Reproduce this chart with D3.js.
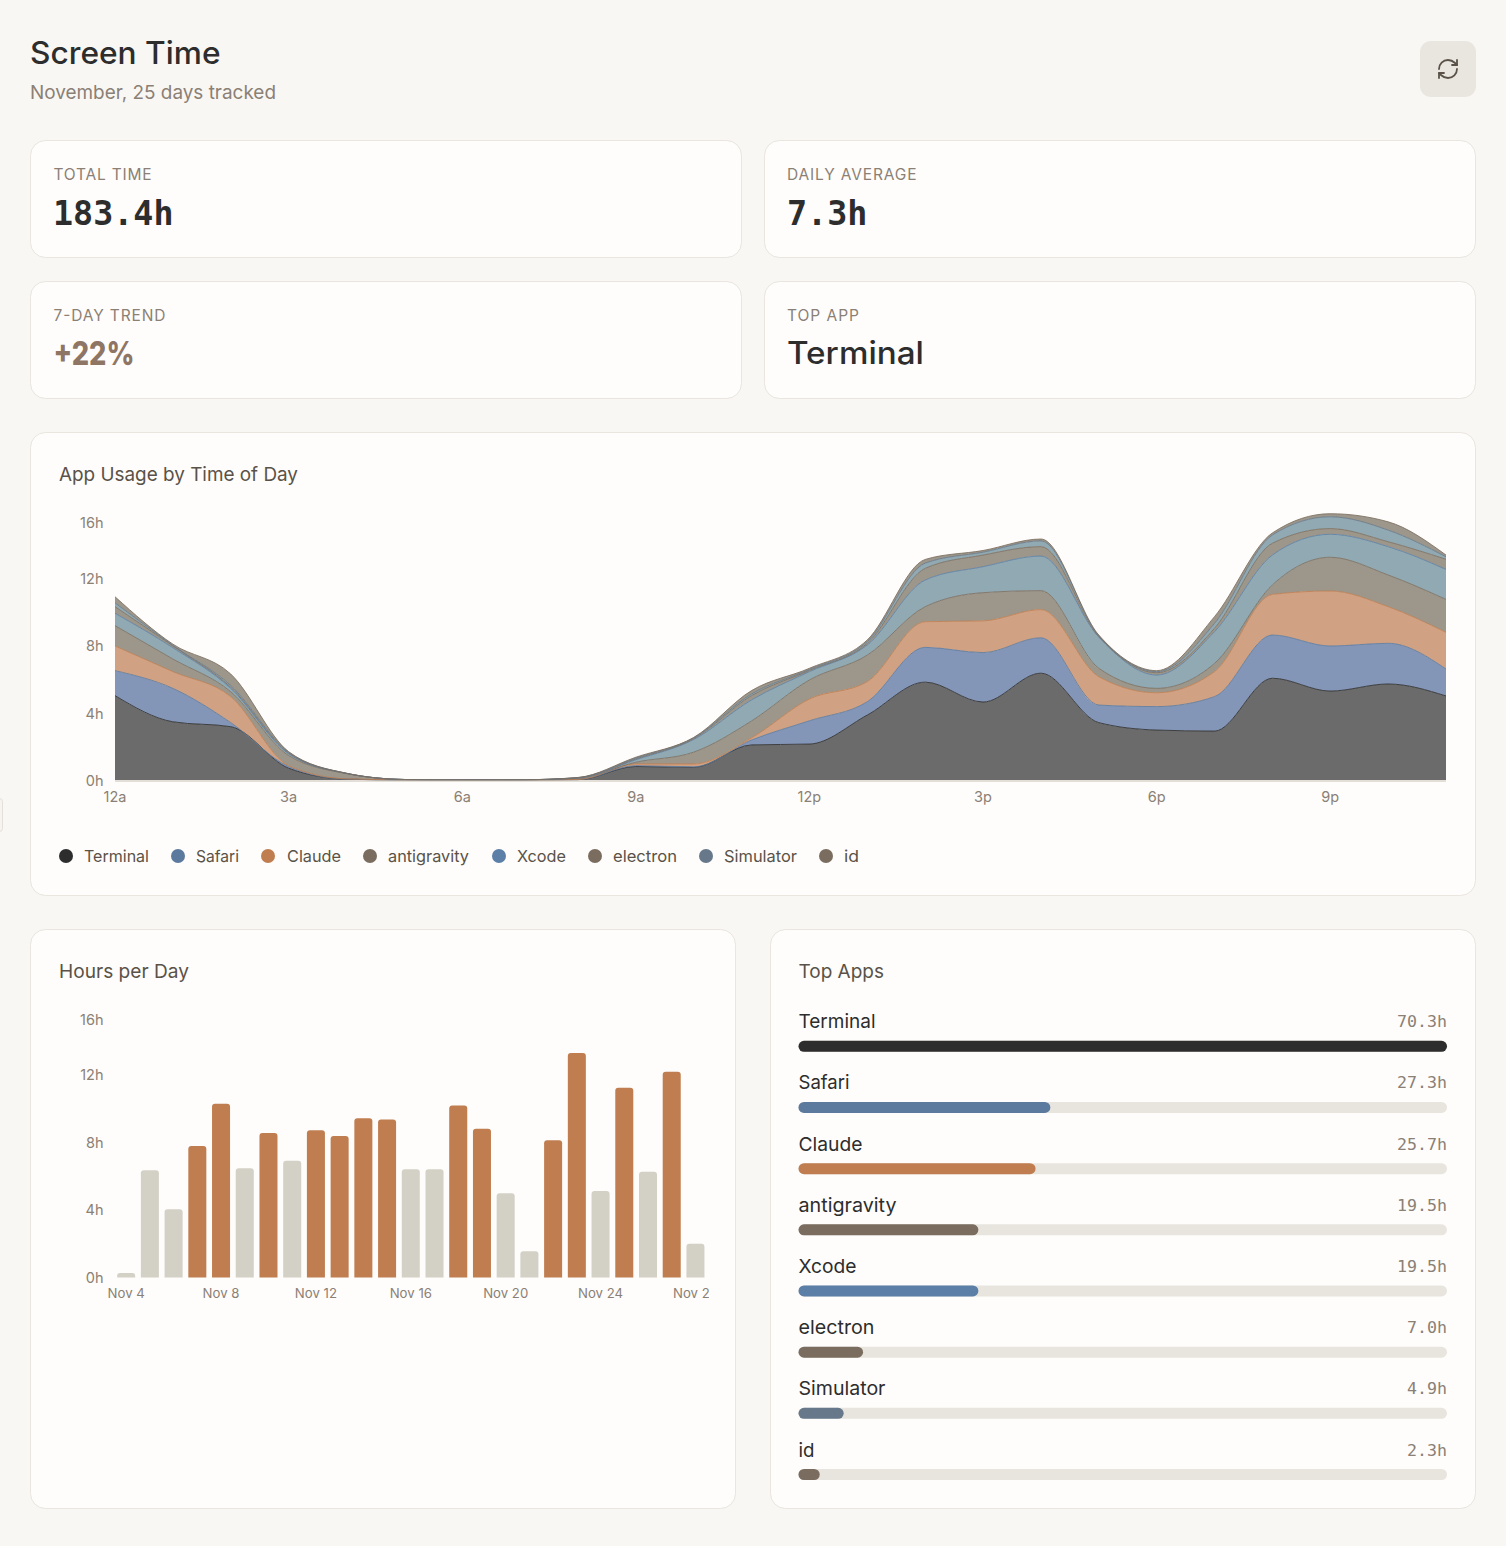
<!DOCTYPE html>
<html><head><meta charset="utf-8"><title>Screen Time</title>
<script src="https://cdn.jsdelivr.net/npm/d3@7"></script>
<style>html,body{margin:0;padding:0;background:#f9f7f4;overflow:hidden}svg{display:block}text{font-family:Inter,"Noto Sans",sans-serif}</style>
</head><body><div id="app"></div>
<script>
// ---------- data ----------
const hourTicks=[0,3,6,9,12,15,18,21];
const hourLabels=["12a","3a","6a","9a","12p","3p","6p","9p"];
const hours=d3.range(24);
const appNames=["Terminal","Safari","Claude","antigravity","Xcode","electron","Simulator","id"];
const terminalByHour=[5,3.45,3.16,.7,.05,0,0,0,.02,.8,.75,2.08,2.13,3.85,5.8,4.62,6.33,3.4,2.96,2.9,6.03,5.27,5.69,4.98];
const safariByHour=[1.48,1.98,.24,.1,0,0,0,0,0,.05,.03,.29,1.38,.79,2.06,2.93,2.1,1.04,1.39,2.04,2.56,2.67,2.41,1.6];
const claudeByHour=[1.46,.99,1.54,.05,.02,.01,0,0,.01,.1,.17,.13,1.29,1.19,1.52,1.88,1.67,1.68,.82,1.48,2.41,3.26,2.17,2.17];
const antigravityByHour=[1.21,.75,.29,.6,.31,.02,0,.01,.07,.1,.7,1,1.13,1.57,.89,1.67,1.12,.5,.26,.49,.56,2,1.88,1.95];
const xcodeByHour=[.73,.67,.2,.1,.01,0,0,0,.02,.15,.75,1.25,.49,.6,1.58,1.54,2.05,1.84,.79,1.88,1.77,1.36,1.68,1.78];
const electronByHour=[.39,.11,.07,.05,0,0,0,0,.01,.05,.05,.25,.08,.1,.69,.69,.56,.04,.14,.2,.7,.34,.29,.6];
const simulatorByHour=[.23,.03,.1,.05,.01,0,0,0,.01,.05,.05,.1,.05,.1,.31,.17,.34,.05,.06,.29,.49,.7,.69,.15];
const idByHour=[.36,.07,.68,.03,0,0,0,0,.01,.05,.02,.2,.07,.1,.22,.1,.11,.04,.06,.4,.12,.18,.49,.1];
const hourlySeries=[terminalByHour,safariByHour,claudeByHour,antigravityByHour,xcodeByHour,electronByHour,simulatorByHour,idByHour];
const dayNumbers=d3.range(4,29);
const hoursPerDay=[.26,6.36,4.05,7.8,10.3,6.48,8.56,6.92,8.72,8.38,9.43,9.37,6.42,6.42,10.2,8.81,5,1.56,8.14,13.3,5.12,11.24,6.26,12.2,2];
const dailyAverage=7.3;
const appTotals=[70.3,27.3,25.7,19.5,19.5,7,4.9,2.3];
const yTicks=[0,4,8,12,16];

// ---------- styles & layout ----------
const ink="#2d2d2d",muted="#8b8075",soft="#5a5248",card="#fefdfb",line="#e9e5df";
const appColors=["#2d2d2d","#5b7a9d","#c07e50","#7a6d5f","#5b7fa6","#7a6d5f","#66788a","#7a6d5f"];
const bandFills=["#6b6b6b","#8496b8","#d0a183","#9d968a","#90a9b2","#9d968a","#90a9b2","#9d968a"];
const legendDotX=[66,178,268,370,499,595,706,826];
const legendTextX=[84,196,287,388,517,613,724,844];
const legendTextW=[65,43,54,81,49,64,73,15];
const topAppTextW=[77,51,64,98,58,76,87,16];

const svg=d3.select("#app").append("svg").attr("width",1506).attr("height",1546).attr("viewBox","0 0 1506 1546");
function txt(g,x,y,s,o={}){
  const t=g.append("text").attr("x",x).attr("y",y).text(s)
    .attr("font-size",o.size||16).attr("font-weight",o.weight||400).attr("fill",o.fill||ink)
    .attr("text-anchor",o.anchor||"start");
  if(o.family)t.style("font-family",o.family);
  if(o.w)t.attr("textLength",o.w).attr("lengthAdjust",o.adjust||"spacingAndGlyphs");
  return t;
}
function box(x,y,w,h){svg.append("rect").attr("x",x+.5).attr("y",y+.5).attr("width",w-1).attr("height",h-1).attr("rx",15).attr("fill",card).attr("stroke",line);}
const mono='"DejaVu Sans Mono",monospace';

// sidebar handle at the left edge
svg.append("rect").attr("x",-8).attr("y",798.5).attr("width",10.5).attr("height",33).attr("rx",3).attr("fill","#f6f4f0").attr("stroke","#e4e0d9");

// header
txt(svg,30,64,"Screen Time",{size:31,weight:500,w:190.5});
txt(svg,30,99,"November, 25 days tracked",{size:19,fill:muted,w:246});
svg.append("rect").attr("x",1420).attr("y",41).attr("width",56).attr("height",56).attr("rx",11).attr("fill","#e9e6e0");
const ic=svg.append("g").attr("transform","translate(1436,57)").attr("fill","none").attr("stroke",soft).attr("stroke-width",1.8).attr("stroke-linecap","round").attr("stroke-linejoin","round");
["M3 12a9 9 0 0 1 9-9 9.75 9.75 0 0 1 6.74 2.74L21 8","M21 3v5h-5","M21 12a9 9 0 0 1-9 9 9.75 9.75 0 0 1-6.74-2.74L3 16","M8 16H3v5"].forEach(d=>ic.append("path").attr("d",d));

// stat cards
box(30,140,712,118);box(764,140,712,118);box(30,281,712,118);box(764,281,712,118);
txt(svg,53.5,180,"TOTAL TIME",{size:15.5,fill:muted,w:98,adjust:"spacing"});
txt(svg,53,225,"183.4h",{size:33,weight:700,family:mono,w:120.5});
txt(svg,787,180,"DAILY AVERAGE",{size:15.5,fill:muted,w:129.5,adjust:"spacing"});
txt(svg,787,225,"7.3h",{size:33,weight:700,family:mono,w:80.5});
txt(svg,53.5,321,"7-DAY TREND",{size:15.5,fill:muted,w:112,adjust:"spacing"});
txt(svg,53.5,364.5,"+22%",{size:32.5,weight:800,fill:"#8f7563",w:81});
txt(svg,787,364,"Terminal",{size:31,weight:500,w:137});
txt(svg,787,321,"TOP APP",{size:15.5,fill:muted,w:72,adjust:"spacing"});

// ---------- area chart ----------
box(30,432,1446,464);
txt(svg,59,481,"App Usage by Time of Day",{size:19,fill:soft,w:239});
const xH=d3.scaleLinear().domain([0,23]).range([115,1446]);
const yH=d3.scaleLinear().domain([0,16]).range([780,510]);
const rows=hours.map(h=>Object.fromEntries(appNames.map((n,i)=>[n,hourlySeries[i][h]])));
const stacked=d3.stack().keys(appNames)(rows);
const area=d3.area().x((d,i)=>xH(i)).y0(d=>yH(d[0])).y1(d=>yH(d[1])).curve(d3.curveMonotoneX);
const topLine=d3.line().x((d,i)=>xH(i)).y(d=>yH(d[1])).curve(d3.curveMonotoneX);
const gA=svg.append("g");
gA.selectAll("path.band").data(stacked).join("path").attr("class","band").attr("d",area).attr("fill",(d,i)=>bandFills[i]);
gA.selectAll("path.top").data(stacked).join("path").attr("class","top").attr("d",topLine).attr("fill","none").attr("stroke",(d,i)=>appColors[i]).attr("stroke-width",1).attr("stroke-opacity",.85);

function styleAxis(g,size){g.selectAll("text").attr("font-size",size).attr("fill",muted).style("font-family","Inter,sans-serif");}
const axX=svg.append("g").attr("transform","translate(-0.5,780.5)")
  .call(d3.axisBottom(xH).tickValues(hourTicks).tickFormat((d,i)=>hourLabels[i]).tickSize(0).tickPadding(11));
axX.select(".domain").attr("stroke","#c8bfb2");styleAxis(axX,14.5);
function yAxis(y,xPos,yOff){
  const g=svg.append("g").attr("transform",`translate(${xPos},${yOff})`)
    .call(d3.axisLeft(y).tickValues(yTicks).tickFormat(d=>d+"h").tickSize(0).tickPadding(11.5));
  g.select(".domain").remove();styleAxis(g,14.5);
  g.selectAll(".tick").filter(d=>d===16).select("text").attr("dy","1.15em");
  return g;
}
yAxis(yH,115,1);

// legend
const leg=svg.append("g");
appNames.forEach((n,i)=>{
  leg.append("circle").attr("cx",legendDotX[i]).attr("cy",856).attr("r",7).attr("fill",appColors[i]);
  txt(leg,legendTextX[i],862,n,{size:16.5,fill:soft,w:legendTextW[i]});
});

// ---------- bar chart ----------
box(30,929,706,580);
txt(svg,59,978,"Hours per Day",{size:19,fill:soft,w:130});
const yD=d3.scaleLinear().domain([0,16]).range([1277.5,1007.5]);
const xD=d3.scaleBand().domain(dayNumbers).range([114.3,707.3]).paddingInner(.24).paddingOuter(.12);
const bw=xD.bandwidth();
svg.append("clipPath").attr("id","clipD").append("rect").attr("x",60).attr("y",990).attr("width",649).attr("height",330);
const gD=svg.append("g").attr("clip-path","url(#clipD)");
gD.selectAll("path").data(dayNumbers).join("path")
  .attr("d",(d,i)=>{const x=xD(d),y=yD(hoursPerDay[i]),b=yD(0),r=Math.min(3,b-y);
    return `M${x},${b}V${y+r}Q${x},${y} ${x+r},${y}H${x+bw-r}Q${x+bw},${y} ${x+bw},${y+r}V${b}Z`;})
  .attr("fill",(d,i)=>hoursPerDay[i]>dailyAverage?"#c07e50":"#d3d0c6");
const axD=gD.append("g").attr("transform","translate(0,1277.5)")
  .call(d3.axisBottom(xD).tickValues(dayNumbers.filter((d,i)=>i%4===0)).tickFormat(d=>"Nov "+d).tickSize(0).tickPadding(11));
axD.select(".domain").remove();styleAxis(axD,13.2);
yAxis(yD,115,0);

// ---------- top apps ----------
box(770,929,706,580);
txt(svg,798.5,978,"Top Apps",{size:19,fill:soft,w:85.5});
const xA=d3.scaleLinear().domain([0,d3.max(appTotals)]).range([0,648.5]);
const yA=d3.scalePoint().domain(appNames).range([1046.3,1474.5]);
const gT=svg.append("g");
appNames.forEach((n,i)=>{
  const c=yA(n);
  txt(gT,798.5,c-18,n,{size:19,w:topAppTextW[i]});
  txt(gT,1447,c-19,appTotals[i].toFixed(1)+"h",{size:16.6,fill:muted,anchor:"end",family:mono});
  gT.append("rect").attr("x",798.5).attr("y",c-5.5).attr("width",648.5).attr("height",11).attr("rx",5.5).attr("fill","#e8e5df");
  gT.append("rect").attr("x",798.5).attr("y",c-5.5).attr("width",xA(appTotals[i])).attr("height",11).attr("rx",5.5).attr("fill",appColors[i]);
});
</script></body></html>
